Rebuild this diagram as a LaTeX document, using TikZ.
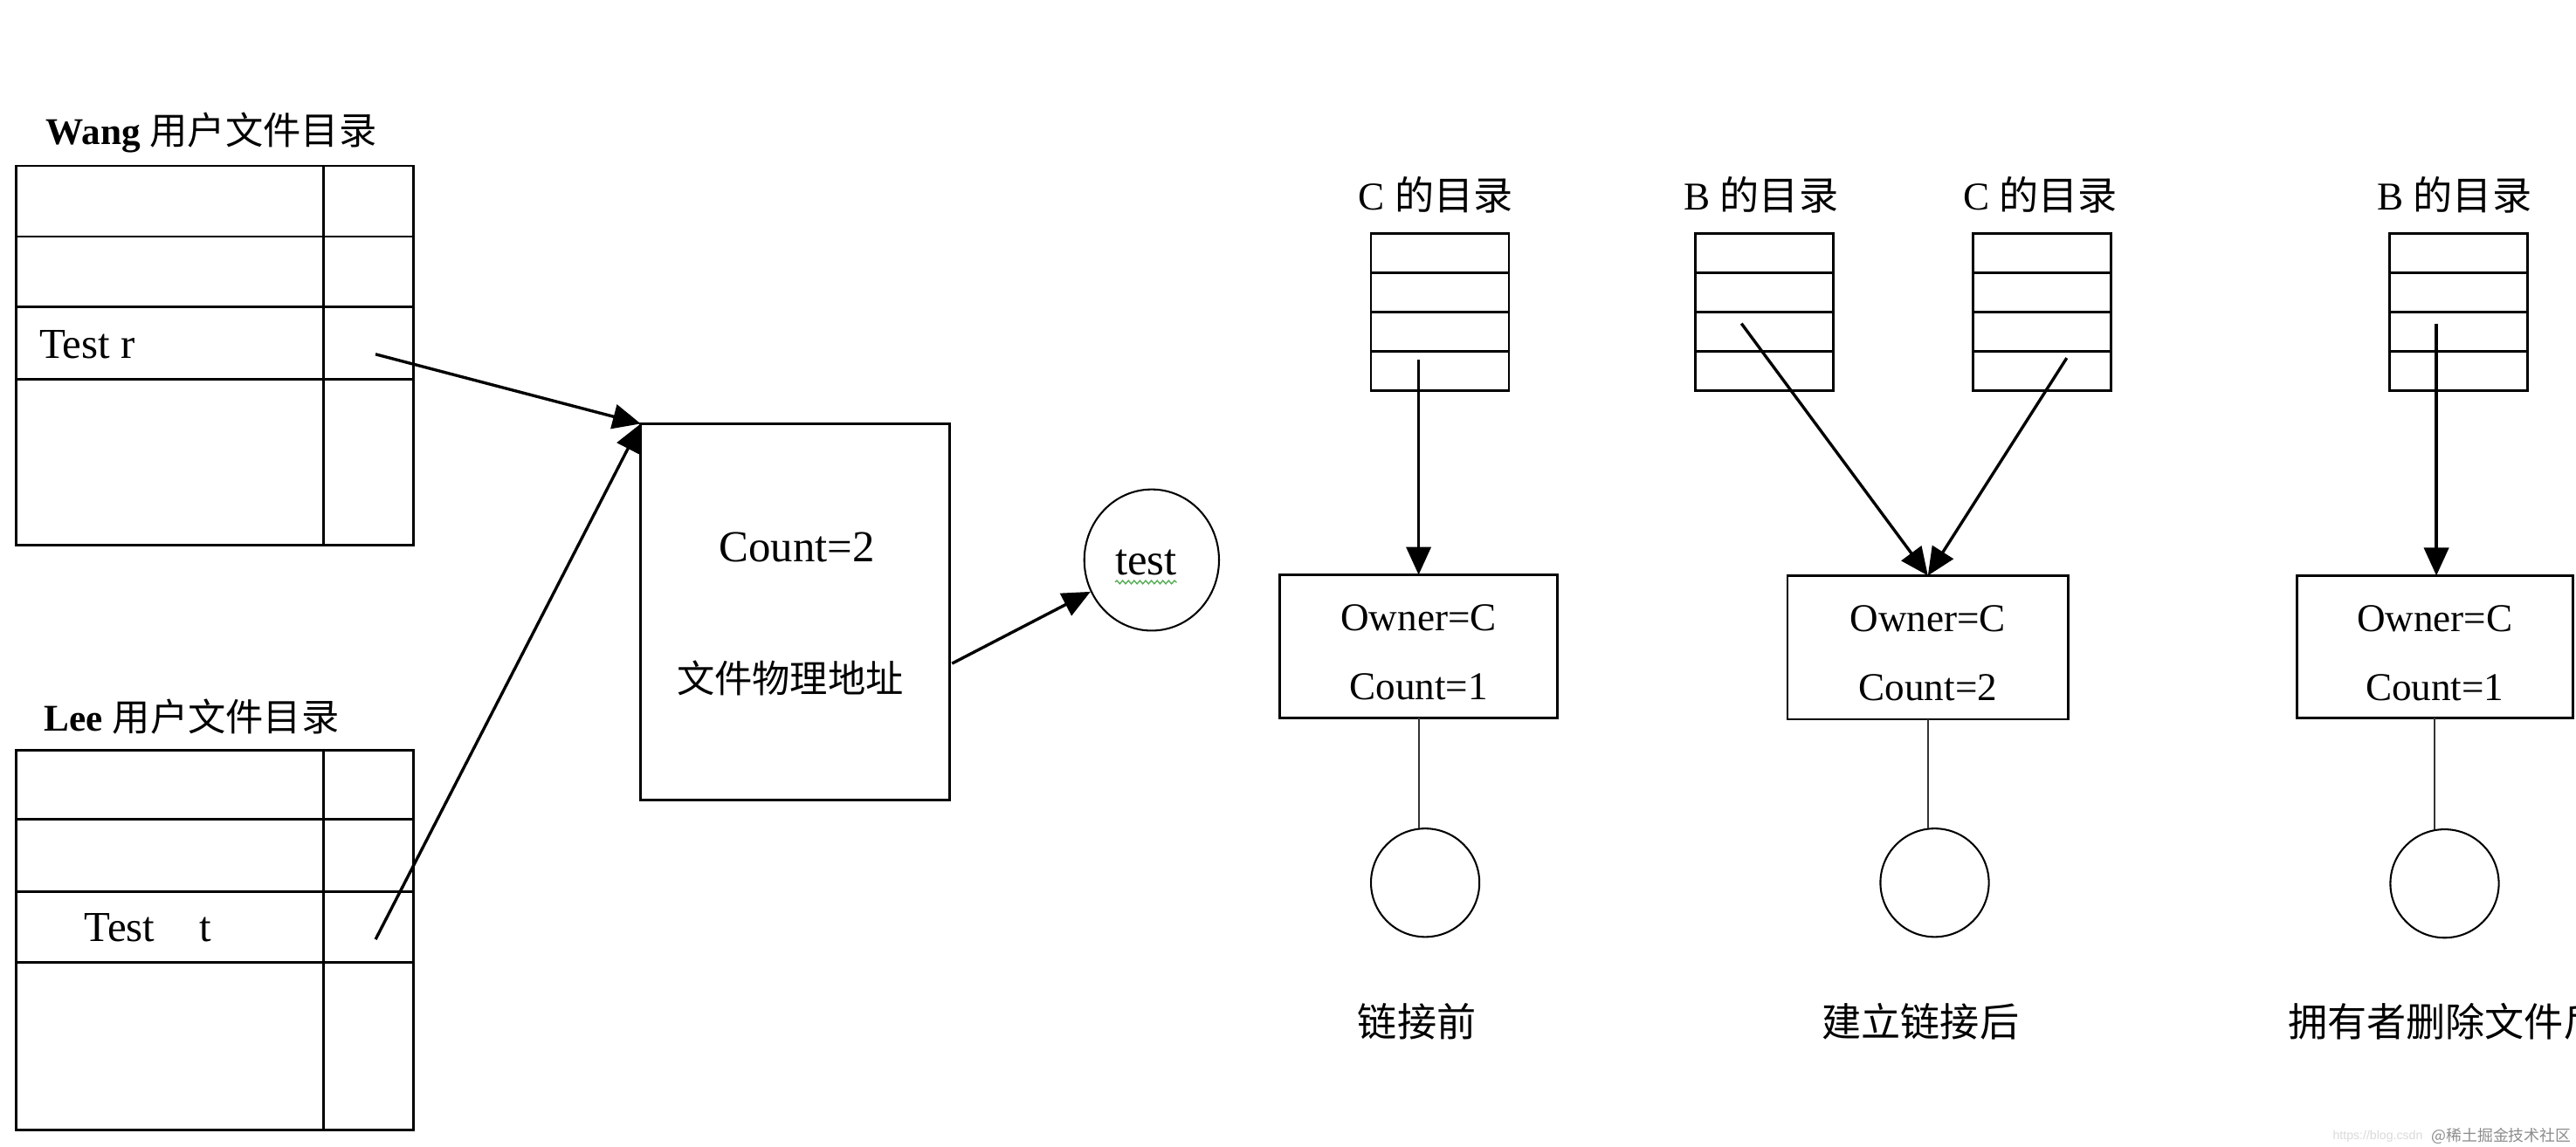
\documentclass[tikz,border=0pt]{standalone}
\usepackage{fontspec}
\setmainfont{Liberation Serif}
\newfontfamily\cjk{Noto Sans CJK SC}
\newfontfamily\wmfont{Liberation Sans}
\usetikzlibrary{arrows.meta,shapes.geometric,decorations.pathmorphing,calc}
\newcommand\fs[1]{\fontsize{#1}{#1}\selectfont}
\definecolor{sq}{RGB}{80,170,80}
\begin{document}
\begin{tikzpicture}[x=1pt,y=-1pt,
  ln/.style={line width=1.5pt},
  thinln/.style={line width=1.1pt,black!80},
  arr/.style={line width=1.8pt,-{Triangle[length=17pt,width=15pt]}},
  box/.style={draw,line width=1.5pt,anchor=north west,inner sep=0pt,outer sep=0pt},
  circ/.style={draw,circle,line width=1.1pt,minimum size=66pt,inner sep=0pt,outer sep=0pt},
  txt/.style={inner sep=0pt,outer sep=0pt},
  ttl/.style={txt,anchor=base west,font=\fs{23}},
  dirttl/.style={txt,anchor=base west,font=\fs{24}},
  inbox/.style={txt,anchor=base,font=\fs{24}},
  captxt/.style={txt,font=\cjk\fs{24}}
]
\useasboundingbox (0,0) rectangle (1568,698);

% ---------- Wang directory ----------
\node[ttl] (wangttl) at (28,88) {\textbf{Wang} {\cjk 用户文件目录}};
\node[box,minimum width=241.5pt,minimum height=231pt] (wang) at (10,101) {};
\foreach \k in {43,86,130}
  \draw[ln] ($(wang.north west)+(0,\k)$) -- ($(wang.north east)+(0,\k)$);
\draw[ln] ($(wang.north west)+(187,0)$) -- ($(wang.south west)+(187,0)$);
\node[txt,anchor=base west,font=\fs{26}] (testr) at (24,218) {Test r};
\coordinate (ws) at (228.6,215.7);

% ---------- Lee directory ----------
\node[ttl] (leettl) at (27,445) {\textbf{Lee} {\cjk 用户文件目录}};
\node[box,minimum width=241.5pt,minimum height=231pt] (lee) at (10,457) {};
\foreach \k in {42,86,129}
  \draw[ln] ($(lee.north west)+(0,\k)$) -- ($(lee.north east)+(0,\k)$);
\draw[ln] ($(lee.north west)+(187,0)$) -- ($(lee.south west)+(187,0)$);
\node[txt,anchor=base west,font=\fs{26}] (testt) at (51.4,573) {Test\hspace{27pt}t};
\coordinate (ls) at (228.6,572);

% ---------- shared file control block ----------
\node[box,minimum width=188pt,minimum height=229pt] (fb) at (390,258) {};
\node[txt,anchor=base,font=\fs{27}] (cnt) at (485,342) {Count=2};
\node[txt,font=\cjk\fs{23}] (addr) at (481,413) {文件物理地址};
\coordinate (fs) at (579.5,404);

\draw[arr] (ws) -- (fb.north west);
\draw[arr] (ls) -- (fb.north west);

% ---------- file test ----------
\node[draw,ellipse,line width=1.1pt,minimum width=82pt,minimum height=86pt,inner sep=0pt] (tc) at (701,341) {};
\node[txt,anchor=base,font=\fs{27}] (tt) at (697.5,350) {test};
\draw[sq,line width=0.7pt,decorate,decoration={snake,amplitude=1pt,segment length=3.5pt}]
  ($(tt.base west)+(0,4.5)$) -- ($(tt.base east)+(0,4.5)$);
\draw[arr] (fs) -- (tc);

% ---------- before link ----------
\node[dirttl] (t1) at (827,128) {C {\cjk 的目录}};
\node[box,minimum width=84pt,minimum height=96pt] (d1) at (834.5,142) {};
\foreach \k in {24,48,72}
  \draw[ln] ($(d1.north west)+(0,\k)$) -- ($(d1.north east)+(0,\k)$);
\node[box,minimum width=169pt,minimum height=87pt] (o1) at (779,350) {};
\node[inbox] at ($(o1.north)+(0,34)$) {Owner=C};
\node[inbox] at ($(o1.north)+(0,76)$) {Count=1};
\node[circ] (c1) at (867.5,537.5) {};
\coordinate (a1) at (863.5,219);
\draw[arr] (a1) -- (o1.north);
\draw[thinln] (o1.south) -- (o1.south |- c1.north);
\node[captxt] (cap1) at (862.5,622) {链接前};

% ---------- after link ----------
\node[dirttl] (t2b) at (1025,128) {B {\cjk 的目录}};
\node[box,minimum width=84pt,minimum height=96pt] (d2b) at (1032,142) {};
\foreach \k in {24,48,72}
  \draw[ln] ($(d2b.north west)+(0,\k)$) -- ($(d2b.north east)+(0,\k)$);
\node[dirttl] (t2c) at (1195,128) {C {\cjk 的目录}};
\node[box,minimum width=84pt,minimum height=96pt] (d2c) at (1201,142) {};
\foreach \k in {24,48,72}
  \draw[ln] ($(d2c.north west)+(0,\k)$) -- ($(d2c.north east)+(0,\k)$);
\node[box,minimum width=171pt,minimum height=87.5pt] (o2) at (1088,350.5) {};
\node[inbox] at ($(o2.north)+(0,34)$) {Owner=C};
\node[inbox] at ($(o2.north)+(0,76)$) {Count=2};
\node[circ] (c2) at (1177.6,537.5) {};
\coordinate (a2b) at (1060,197);
\coordinate (a2c) at (1258,218);
\draw[arr] (a2b) -- (o2.north);
\draw[arr] (a2c) -- (o2.north);
\draw[thinln] (o2.south) -- (o2.south |- c2.north);
\node[captxt] (cap2) at (1169,622) {建立链接后};

% ---------- owner deletes ----------
\node[dirttl] (t3) at (1447,128) {B {\cjk 的目录}};
\node[box,minimum width=84pt,minimum height=96pt] (d3) at (1454.6,142) {};
\foreach \k in {24,48,72}
  \draw[ln] ($(d3.north west)+(0,\k)$) -- ($(d3.north east)+(0,\k)$);
\node[box,minimum width=168pt,minimum height=86.5pt] (o3) at (1398,350.5) {};
\node[inbox] at ($(o3.north)+(0,34)$) {Owner=C};
\node[inbox] at ($(o3.north)+(0,76)$) {Count=1};
\node[circ] (c3) at (1488,538) {};
\coordinate (a3) at (1483,197);
\draw[arr] (a3) -- (a3 |- o3.north);
\draw[thinln] (o3.south) -- (o3.south |- c3.north);
\node[captxt,anchor=west] (cap3) at (1392.6,622) {拥有者删除文件后};

% ---------- watermark ----------
\node[txt,anchor=west,text=black!15,font=\wmfont\fs{7.5}] (wm1) at (1420,692) {https://blog.csdn};
\node[txt,anchor=east,text=black!45,font=\cjk\fs{9.5}] (wm2) at (1565,692) {@稀土掘金技术社区};
\end{tikzpicture}
\end{document}
